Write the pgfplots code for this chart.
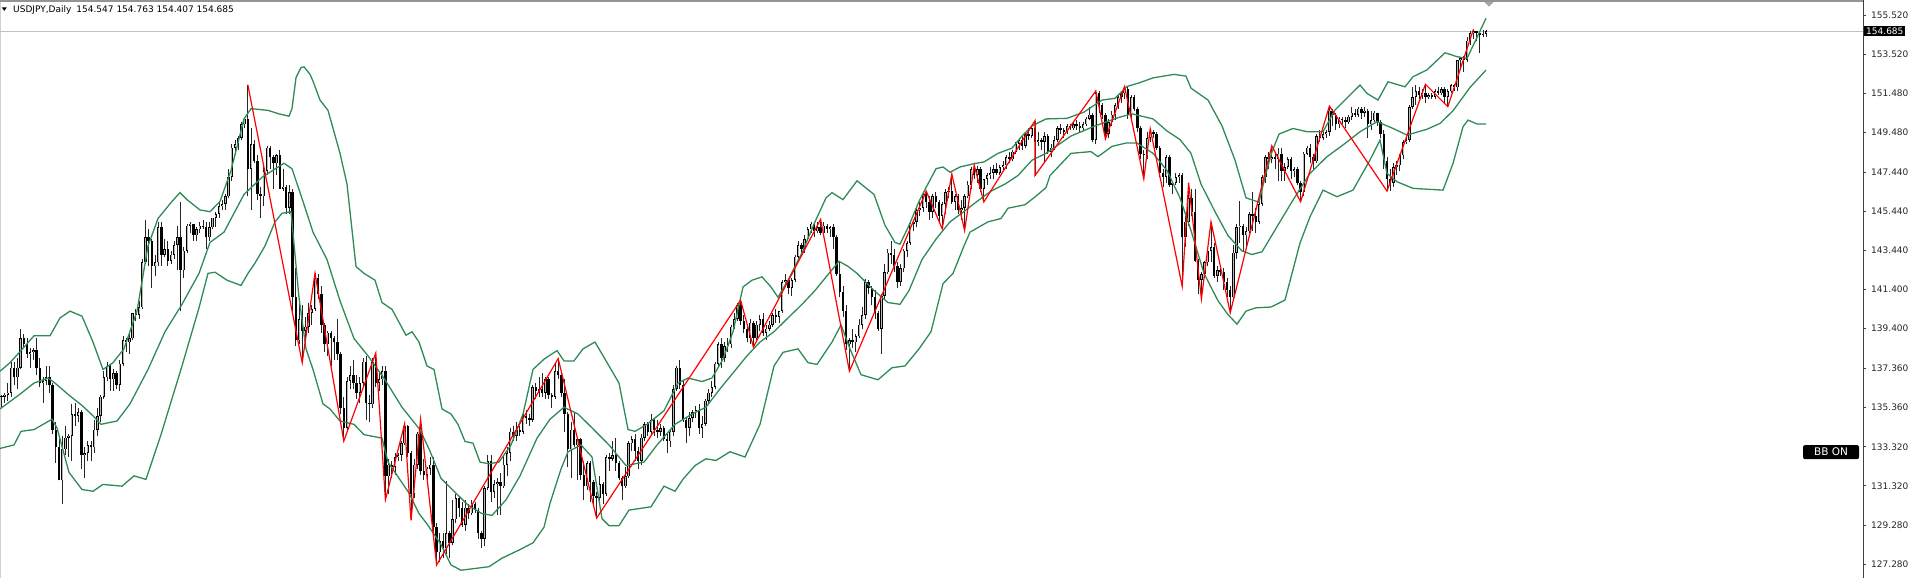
\documentclass[border=0pt]{standalone}
\usepackage{pgfplots}
\pgfplotsset{compat=1.18}
\usepackage{pgfplotstable}
\usepackage{fontspec}
\setmainfont{DejaVu Sans}
\definecolor{bbgreen}{RGB}{46,139,87}
\definecolor{pricegrey}{RGB}{192,192,192}
\definecolor{zzred}{RGB}{255,0,0}

% Daily candles, one row per bar: open high low close
\pgfplotstableread{
o h l c
135.9 136.0 135.3 135.9
135.9 136.1 135.6 136.0
136.0 136.6 135.7 136.1
136.1 137.7 135.9 137.4
137.4 137.7 136.5 136.9
136.9 137.9 136.3 137.4
137.4 139.38 137.3 138.9
138.9 139.1 138.4 138.6
138.6 138.9 137.9 138.1
138.1 138.4 137.4 138.2
138.2 138.4 137.8 138.3
138.3 138.9 137.0 137.4
137.4 137.9 136.4 136.6
136.6 136.9 135.6 136.7
136.7 137.5 136.5 136.9
136.9 137.5 136.1 136.5
136.5 136.6 134.0 134.2
134.2 134.6 132.5 133.3
133.3 133.7 131.6 131.6
131.6 133.9 130.39 133.2
133.2 134.4 132.9 133.8
133.8 134.0 132.8 133.9
133.9 135.5 132.6 135.0
135.0 135.58 134.4 134.9
134.9 135.3 134.6 135.1
135.1 135.2 132.2 132.9
132.9 133.3 131.73 133.0
133.0 133.6 132.6 133.4
133.4 133.6 132.6 133.3
133.3 134.7 133.0 134.2
134.2 135.3 133.9 134.9
134.9 136.0 134.6 135.9
135.9 137.2 135.8 136.9
136.9 137.7 136.7 137.5
137.5 137.6 136.2 136.8
136.8 137.3 136.2 137.1
137.1 137.2 136.3 136.5
136.5 137.8 136.2 137.6
137.6 139.0 137.5 138.8
138.8 138.9 138.2 138.7
138.7 139.1 138.1 138.9
138.9 140.2 138.8 140.2
140.2 140.4 139.8 140.1
140.1 140.8 139.9 140.5
140.5 143.0 140.4 142.8
142.8 144.99 142.7 144.1
144.1 144.5 142.6 143.9
143.9 144.0 141.5 142.6
142.6 143.2 142.1 142.8
142.8 144.9 142.6 144.6
144.6 144.9 142.6 143.2
143.2 144.0 143.1 143.5
143.5 143.9 142.6 142.9
142.9 143.4 142.7 143.2
143.2 143.9 143.0 143.7
143.7 144.7 142.4 144.1
144.1 145.9 140.3 142.4
142.4 143.6 142.0 143.4
143.4 144.8 143.3 144.7
144.7 144.9 144.3 144.8
144.8 144.8 143.9 144.2
144.2 144.6 143.9 144.5
144.5 144.9 144.3 144.7
144.7 145.0 144.5 144.6
144.6 144.9 143.5 144.1
144.1 144.9 143.9 144.6
144.6 145.1 144.5 145.1
145.1 145.4 144.6 145.3
145.3 145.9 145.1 145.7
145.7 146.0 145.5 145.8
145.8 146.3 145.5 146.2
146.2 147.6 146.1 147.2
147.2 148.9 147.0 148.7
148.7 149.1 148.3 148.9
148.9 149.3 148.6 149.2
149.2 150.0 149.1 149.9
149.9 150.3 149.7 150.2
150.2 151.94 146.2 147.6
147.6 149.7 145.5 148.9
148.9 149.1 147.9 148.0
148.0 148.3 146.0 146.3
146.3 146.7 145.1 146.2
146.2 147.9 145.7 147.5
147.5 148.8 147.3 148.7
148.7 148.8 147.6 148.2
148.2 148.3 146.6 147.9
147.9 148.4 147.3 148.3
148.3 148.6 146.6 146.6
146.6 147.6 146.5 146.7
146.7 146.8 145.3 145.6
145.6 146.8 145.3 146.4
146.4 146.6 140.2 141.0
141.0 142.5 138.5 138.8
138.8 140.8 138.6 139.9
139.9 140.6 137.65 139.3
139.3 140.0 138.7 139.5
139.5 140.7 139.2 140.2
140.2 140.6 139.6 140.4
140.4 142.25 140.3 142.0
142.0 142.2 140.9 141.2
141.2 141.6 139.2 139.6
139.6 139.7 138.2 138.6
138.6 139.3 138.0 139.2
139.2 139.3 137.5 138.9
138.9 139.0 137.8 138.7
138.7 139.9 137.8 138.1
138.1 138.2 135.0 135.3
135.3 135.9 133.62 134.3
134.3 136.9 134.1 136.7
136.7 137.5 136.3 137.0
137.0 137.8 136.3 136.6
136.6 137.0 135.8 136.1
136.1 136.9 135.6 136.6
136.6 137.9 136.4 137.7
137.7 138.0 134.7 135.6
135.6 136.0 134.6 135.5
135.5 137.9 135.3 137.7
137.7 138.15 136.4 136.6
136.6 137.2 136.2 136.8
136.8 137.5 136.5 137.2
137.2 137.5 130.6 131.8
131.8 132.7 130.9 132.4
132.4 132.6 131.7 132.3
132.3 133.0 131.9 132.8
132.8 133.0 132.6 132.9
132.9 133.6 132.6 133.5
133.5 134.5 133.4 134.4
134.4 134.45 132.8 133.0
133.0 133.1 129.54 130.9
130.9 132.7 130.7 132.4
132.4 134.1 132.2 134.0
134.0 134.74 131.9 132.1
132.1 132.7 131.6 131.9
131.9 132.3 131.5 132.2
132.2 132.8 131.9 132.4
132.4 132.8 128.9 129.2
129.2 129.4 127.25 127.9
127.9 128.9 127.4 128.5
128.5 128.9 127.6 128.1
128.1 131.58 127.8 128.9
128.9 129.0 127.6 128.4
128.4 130.6 128.3 129.6
129.6 130.9 129.4 130.7
130.7 130.8 129.7 130.2
130.2 130.5 129.2 129.3
129.3 130.6 129.0 130.2
130.2 130.4 129.6 129.9
129.9 130.6 129.8 130.4
130.4 130.5 129.9 130.1
130.1 130.2 128.6 128.9
128.9 129.0 128.1 128.6
128.6 131.3 128.2 131.2
131.2 132.9 131.1 132.6
132.6 132.9 130.5 131.0
131.0 131.6 130.7 131.4
131.4 131.7 129.8 131.5
131.5 132.0 129.8 131.3
131.3 132.9 131.2 132.4
132.4 133.3 131.8 133.0
133.0 134.3 132.6 134.1
134.1 134.4 133.6 133.9
133.9 134.6 133.6 134.2
134.2 134.4 133.9 134.1
134.1 135.0 134.0 134.9
134.9 135.2 134.5 134.8
134.8 135.0 134.4 134.7
134.7 136.5 134.6 136.4
136.4 136.6 135.8 136.2
136.2 136.9 135.9 136.3
136.3 137.1 135.9 136.1
136.1 136.9 135.8 136.8
136.8 136.9 135.8 136.0
136.0 136.1 135.3 135.9
135.9 137.6 135.8 137.2
137.2 137.86 136.8 137.0
137.0 137.1 135.9 136.1
136.1 136.8 134.1 135.0
135.0 135.1 132.3 133.2
133.2 134.6 131.7 134.2
134.2 135.1 133.3 133.4
133.4 133.8 131.6 133.7
133.7 133.8 131.6 131.9
131.9 132.6 130.6 131.3
131.3 132.6 131.1 132.5
132.5 132.6 130.5 131.5
131.5 131.6 130.4 130.8
130.8 131.0 129.66 130.7
130.7 131.8 130.4 131.4
131.4 131.5 130.4 130.9
130.9 132.9 130.8 132.8
132.8 133.0 132.1 132.7
132.7 133.6 132.6 132.9
132.9 133.8 132.1 132.5
132.5 132.6 131.6 131.7
131.7 131.8 130.6 131.3
131.3 132.3 131.2 131.8
131.8 133.6 131.7 133.5
133.5 133.9 133.1 133.7
133.7 134.0 132.6 133.1
133.1 133.3 132.2 132.6
132.6 134.0 132.4 133.8
133.8 134.6 133.6 134.5
134.5 134.6 133.9 134.1
134.1 135.0 134.0 134.7
134.7 134.8 133.9 134.2
134.2 134.7 133.8 134.1
134.1 134.5 133.9 134.3
134.3 134.4 133.6 133.7
133.7 134.0 133.0 133.6
133.6 134.2 133.3 134.1
134.1 136.5 133.9 136.3
136.3 137.5 136.2 137.4
137.4 137.8 136.3 136.5
136.5 136.7 134.6 134.7
134.7 134.8 133.5 134.3
134.3 135.1 133.9 134.8
134.8 135.2 134.6 135.1
135.1 135.4 134.8 135.2
135.2 135.5 134.0 134.3
134.3 134.9 133.8 134.5
134.5 135.8 134.4 135.7
135.7 136.3 135.5 136.1
136.1 136.7 135.9 136.4
136.4 137.7 136.3 137.6
137.6 138.7 137.5 138.6
138.6 138.9 137.4 137.9
137.9 138.7 137.7 138.5
138.5 138.9 138.2 138.6
138.6 139.6 138.4 139.5
139.5 140.2 139.4 139.9
139.9 140.7 139.8 140.6
140.6 140.86 139.6 139.8
139.8 140.1 139.2 139.4
139.4 139.6 138.7 138.9
138.9 139.9 138.6 139.7
139.7 139.8 138.45 138.9
138.9 139.8 138.8 139.6
139.6 140.1 139.3 139.9
139.9 140.2 139.0 139.2
139.2 139.6 138.8 139.4
139.4 139.8 139.3 139.6
139.6 140.2 139.5 140.1
140.1 140.4 139.7 140.0
140.0 140.3 139.7 140.3
140.3 141.9 140.2 141.8
141.8 142.2 141.6 141.9
141.9 142.0 141.2 141.5
141.5 142.0 141.1 141.9
141.9 143.2 141.8 143.1
143.1 143.9 142.9 143.7
143.7 143.8 143.2 143.5
143.5 144.2 143.3 144.0
144.0 144.6 143.9 144.5
144.5 144.9 144.3 144.8
144.8 144.9 144.1 144.4
144.4 144.9 144.3 144.6
144.6 145.02 144.2 144.3
144.3 144.9 144.2 144.7
144.7 144.8 144.3 144.5
144.5 144.7 144.1 144.6
144.6 144.8 143.5 144.1
144.1 144.2 142.1 142.2
142.2 142.9 141.0 141.3
141.3 141.6 140.0 140.3
140.3 140.6 138.3 138.6
138.6 138.9 137.21 138.8
138.8 139.4 138.4 138.7
138.7 139.1 138.2 139.0
139.0 139.9 138.9 139.6
139.6 140.5 139.4 140.1
140.1 141.95 139.9 141.8
141.8 141.9 141.2 141.5
141.5 141.6 140.6 141.0
141.0 141.4 139.9 140.2
140.2 140.3 139.3 139.4
139.4 141.2 138.07 141.1
141.1 142.7 140.9 142.3
142.3 143.5 142.2 143.3
143.3 143.9 142.7 143.2
143.2 143.5 142.3 142.6
142.6 142.8 141.5 141.8
141.8 142.7 141.6 142.5
142.5 143.5 142.3 143.4
143.4 143.9 143.1 143.8
143.8 144.9 143.7 144.8
144.8 145.0 144.4 144.9
144.9 145.6 144.6 145.5
145.5 145.9 145.2 145.6
145.6 146.4 145.4 146.3
146.3 146.47 145.6 145.9
145.9 146.2 145.0 145.4
145.4 146.3 145.1 146.2
146.2 146.4 145.6 145.9
145.9 146.0 144.9 145.2
145.2 145.9 144.53 145.8
145.8 146.6 145.3 146.4
146.4 146.7 146.1 146.5
146.5 147.35 145.8 145.9
145.9 146.3 145.5 146.2
146.2 146.3 145.3 145.5
145.5 146.0 145.0 145.6
145.6 146.3 144.44 146.2
146.2 147.0 146.1 146.8
146.8 147.7 146.6 147.6
147.6 147.8 147.1 147.3
147.3 147.75 146.9 147.6
147.6 147.7 146.4 146.6
146.6 147.1 145.91 147.1
147.1 147.4 146.8 147.3
147.3 147.7 147.1 147.4
147.4 147.8 147.1 147.6
147.6 147.9 147.3 147.4
147.4 147.8 147.3 147.7
147.7 148.0 147.5 147.8
147.8 148.3 147.6 148.2
148.2 148.5 147.9 148.1
148.1 148.6 148.0 148.5
148.5 149.0 148.4 148.9
148.9 149.2 148.6 149.1
149.1 149.3 148.6 148.8
148.8 149.5 148.7 149.4
149.4 149.7 149.1 149.3
149.3 149.8 149.2 149.7
149.7 150.09 147.27 149.0
149.0 149.5 148.8 149.1
149.1 149.2 148.6 149.0
149.0 149.5 147.9 149.3
149.3 149.4 148.4 148.5
148.5 148.9 148.2 148.7
148.7 149.3 148.6 149.1
149.1 149.8 149.0 149.7
149.7 149.9 149.4 149.6
149.6 149.7 149.2 149.5
149.5 149.9 149.4 149.8
149.8 149.9 149.6 149.7
149.7 150.0 149.6 149.9
149.9 150.1 149.6 149.8
149.8 150.0 149.5 149.7
149.7 150.0 149.6 149.9
149.9 150.3 149.8 150.2
150.2 150.8 150.1 150.4
150.4 150.5 149.0 149.1
149.1 151.62 148.9 151.5
151.5 151.6 150.5 150.9
150.9 151.0 150.2 150.4
150.4 150.5 149.15 149.4
149.4 150.2 149.2 150.0
150.0 150.6 149.8 150.4
150.4 151.0 150.1 150.9
150.9 151.4 150.7 151.3
151.3 151.6 151.0 151.5
151.5 151.85 151.2 151.7
151.7 151.8 150.2 150.4
150.4 151.4 150.2 151.3
151.3 151.4 150.6 150.7
150.7 150.8 149.5 149.7
149.7 149.8 148.1 148.4
148.4 148.6 147.09 148.3
148.3 149.5 148.1 149.2
149.2 149.68 149.0 149.5
149.5 149.6 149.2 149.4
149.4 149.5 148.6 148.7
148.7 148.8 147.2 147.4
147.4 147.6 146.7 147.2
147.2 148.3 146.9 148.2
148.2 148.3 146.7 146.8
146.8 147.0 146.3 146.9
146.9 147.4 146.8 147.2
147.2 147.4 146.9 147.3
147.3 147.4 141.57 144.1
144.1 145.2 143.6 144.9
144.9 146.9 144.7 146.1
146.1 146.6 145.2 145.4
145.4 146.6 142.8 142.9
142.9 143.0 141.2 141.9
141.9 142.3 140.92 142.2
142.2 142.9 142.0 142.8
142.8 143.5 142.6 143.4
143.4 144.89 142.8 143.6
143.6 143.8 142.0 142.1
142.1 142.6 141.8 142.4
142.4 142.5 142.1 142.3
142.3 142.5 141.4 141.8
141.8 142.0 141.0 141.4
141.4 141.6 140.21 141.0
141.0 143.7 140.8 143.3
143.3 144.8 143.0 144.6
144.6 145.98 143.8 144.7
144.7 144.8 143.4 144.2
144.2 144.6 143.6 144.4
144.4 145.4 144.3 145.3
145.3 146.4 144.4 145.2
145.2 145.6 144.3 144.9
144.9 145.9 144.8 145.8
145.8 147.3 145.7 147.2
147.2 148.3 146.9 148.2
148.2 148.5 147.6 148.1
148.1 148.80 147.9 148.2
148.2 148.5 147.6 148.1
148.1 148.7 146.98 148.4
148.4 148.7 147.0 147.5
147.5 147.9 147.0 147.7
147.7 148.2 147.6 148.1
148.1 148.2 147.1 147.5
147.5 147.7 147.2 147.6
147.6 147.7 146.8 146.9
146.9 147.0 145.92 146.4
146.4 148.5 146.2 148.4
148.4 148.8 148.3 148.7
148.7 148.9 147.9 148.2
148.2 148.4 147.6 148.0
148.0 149.4 147.9 149.3
149.3 149.6 149.0 149.2
149.2 149.5 149.1 149.4
149.4 149.6 149.2 149.5
149.5 150.84 149.3 150.6
150.6 150.7 149.8 150.4
150.4 150.5 149.6 149.9
149.9 150.3 149.7 150.2
150.2 150.3 149.9 150.1
150.1 150.3 149.7 150.0
150.0 150.4 149.9 150.3
150.3 150.8 150.1 150.5
150.5 150.7 150.3 150.4
150.4 150.8 150.3 150.7
150.7 150.8 150.2 150.5
150.5 150.8 150.3 150.6
150.6 150.7 149.2 149.9
149.9 150.6 149.6 150.1
150.1 150.6 150.0 150.5
150.5 150.5 149.8 150.0
150.0 150.1 149.2 149.4
149.4 149.6 147.6 148.0
148.0 148.2 146.47 147.1
147.1 147.6 146.5 146.9
146.9 147.9 146.7 147.7
147.7 148.0 147.3 147.8
147.8 148.4 147.5 148.3
148.3 149.1 148.1 149.0
149.0 149.3 148.9 149.1
149.1 150.9 149.0 150.8
150.8 151.8 150.7 151.3
151.3 151.9 150.9 151.6
151.6 151.8 151.2 151.4
151.4 151.7 151.2 151.5
151.5 151.96 151.0 151.3
151.3 151.5 151.2 151.4
151.4 151.5 151.2 151.3
151.3 151.7 151.2 151.6
151.6 151.8 151.4 151.5
151.5 151.8 151.4 151.7
151.7 151.8 151.0 151.3
151.3 151.7 150.81 151.6
151.6 152.0 151.5 151.9
151.9 152.0 151.6 151.8
151.8 153.2 151.6 153.2
153.2 153.3 152.7 153.3
153.3 153.4 152.6 153.2
153.2 154.4 153.1 154.2
154.2 154.7 154.0 154.6
154.6 154.78 154.3 154.7
154.7 154.72 154.2 154.6
154.6 154.7 153.55 154.5
154.5 154.75 154.4 154.55
154.547 154.763 154.407 154.685
}\candles

\pgfplotstableread{
x y
0 137.21
10 137.65
21 138.27
34 139.03
50 139.03
60 139.95
70 140.30
82 140.04
93 138.71
103 137.30
113 137.65
124 138.36
137 140.30
148 143.65
158 145.06
172 145.94
180 146.39
187 146.03
200 145.5
210 145.41
220 145.94
231 147.53
244 150.18
251 150.71
268 150.62
279 150.44
289 150.32
292 150.71
296 152.3
301 152.82
304 152.86
310 152.47
313 152.12
320 151.15
328 150.62
340 148.41
347 146.83
356 142.59
364 142.24
375 141.89
382 140.74
392 140.39
406 139.06
412 139.24
419 138.71
427 137.48
434 137.3
442 135.27
451 135.01
458 134.48
465 133.6
473 133.51
480 132.54
489 132.45
499 132.54
511 133.42
523 135.01
533 137.3
544 137.83
557 138.27
564 137.74
574 137.74
583 138.36
595 138.71
609 137.48
619 136.6
628 134.21
635 134.12
647 134.48
664 135.18
678 136.6
688 136.86
702 136.68
712 136.86
723 137.83
733 139.24
743 141.54
752 141.89
762 142.06
771 141.54
778 141.01
788 141.89
802 143.3
815 144.89
826 146.12
832 146.39
843 146.03
857 147.0
874 146.3
885 144.71
895 143.83
900 143.74
909 144.71
919 145.94
926 146.65
936 147.62
943 147.71
950 147.44
960 147.71
974 147.88
984 147.97
998 148.41
1012 148.68
1022 149.3
1032 149.82
1046 150.18
1067 150.21
1084 150.53
1102 151.15
1115 151.24
1127 151.85
1139 152.03
1153 152.29
1174 152.47
1186 152.38
1191 151.76
1208 151.15
1222 149.82
1235 148.06
1246 146.12
1259 145.9
1266 147.4
1272 148.5
1279 149.4
1293 149.69
1307 149.52
1323 149.52
1335 150.64
1360 151.92
1367 151.49
1378 151.15
1388 152.09
1405 151.83
1413 152.35
1427 152.70
1445 153.58
1457 153.38
1467 153.29
1486 155.35
}\upperband

\pgfplotstableread{
x y
0 135.27
21 136.07
34 136.60
48 136.86
55 136.60
69 135.98
82 135.45
93 134.92
101 134.48
117 134.65
130 135.53
148 137.30
165 139.24
182 140.65
199 142.24
210 143.83
224 144.36
244 146.30
262 147.18
284 147.9
292 147.62
303 145.94
313 144.36
327 142.95
340 140.83
354 138.89
368 138.0
385 136.77
402 135.36
420 134.2
430 133.1
441 131.7
454 131.04
468 130.33
482 129.89
492 129.8
506 130.6
520 131.83
537 133.77
550 134.74
564 135.36
578 135.01
592 134.3
609 133.42
626 132.36
644 132.54
657 133.42
675 134.48
692 135.01
706 135.36
719 136.24
733 137.12
747 138.0
760 138.71
774 139.24
788 139.95
802 140.65
815 141.36
829 142.24
839 142.86
848 142.6
857 142.24
874 141.36
888 140.74
900 140.65
909 141.36
922 142.95
936 144.0
950 144.89
964 145.42
977 145.94
991 146.47
1005 146.83
1018 147.27
1032 148.06
1046 148.41
1071 149.3
1095 149.82
1119 150.26
1132 150.44
1153 150.18
1167 149.56
1180 149.12
1191 148.41
1201 146.83
1215 145.41
1228 144.18
1242 143.39
1252 143.21
1262 143.35
1277 144.64
1293 146.01
1310 147.38
1327 148.24
1343 148.84
1360 149.52
1377 150.04
1393 149.69
1407 149.35
1427 149.65
1440 149.95
1453 150.6
1470 151.8
1486 152.69
}\middleband

\pgfplotstableread{
x y
0 133.24
14 133.42
21 134.12
34 134.21
52 134.74
57 134.30
69 132.01
82 131.13
93 131.04
103 131.39
122 131.30
134 131.83
146 131.65
161 133.95
182 137.48
199 140.47
208 142.24
215 142.3
227 141.89
241 141.62
248 142.24
255 142.77
265 143.65
275 144.89
282 145.33
291 145.41
299 141.0
306 138.36
313 137.3
323 135.53
330 135.27
340 134.65
354 134.48
364 133.95
382 133.77
388 132.54
402 131.48
409 130.95
419 129.89
427 129.36
441 128.30
451 127.25
461 126.98
475 127.07
489 127.16
502 127.6
520 128.04
533 128.39
544 129.19
550 130.42
561 132.18
568 133.07
581 133.42
592 132.8
602 129.63
609 129.27
619 129.27
629 130.07
651 130.24
664 131.3
675 131.04
683 131.66
695 132.36
706 132.71
716 132.62
730 133.07
745 132.8
760 134.48
774 137.48
783 138.18
798 138.36
808 137.65
817 137.56
832 138.71
841 139.59
850 138.36
861 137.03
878 136.77
892 137.39
905 137.48
919 138.36
931 139.24
943 141.71
953 142.24
964 143.65
970 144.36
988 144.89
1001 145.06
1008 145.59
1025 145.77
1036 146.21
1046 146.65
1050 147.27
1071 148.41
1091 148.5
1098 148.24
1112 148.77
1126 148.94
1137 148.94
1153 148.41
1167 147.53
1180 146.12
1191 144.44
1204 142.24
1218 140.83
1228 140.12
1237 139.63
1246 140.3
1256 140.47
1271 140.51
1285 140.87
1300 143.8
1310 145.15
1323 146.52
1337 146.18
1353 146.52
1370 148.07
1380 149.09
1387 147.38
1397 146.95
1413 146.61
1443 146.52
1453 147.89
1463 149.78
1468 150.12
1477 149.92
1486 149.92
}\lowerband

\pgfplotstableread{
x y
247.8 151.94
302.2 137.65
315.0 142.25
343.8 133.62
375.8 138.15
385.4 130.6
404.6 134.5
411.0 129.54
420.6 134.74
436.6 127.25
558.2 137.86
596.6 129.66
740.6 140.86
753.4 138.45
820.6 145.02
849.4 137.21
926.2 146.47
942.2 144.53
951.8 147.35
964.6 144.44
974.2 147.8
983.8 145.91
1035.0 150.09
1035.0 147.27
1095.8 151.62
1105.4 149.15
1124.6 151.85
1143.8 147.09
1150.2 149.68
1182.2 141.57
1188.6 146.9
1201.4 140.92
1211.0 144.89
1230.2 140.21
1271.8 148.80
1300.6 145.92
1329.4 150.84
1387.0 146.47
1425.4 151.96
1447.8 150.81
1473.4 154.78
}\zigzag

\begin{document}
\begin{tikzpicture}[x=1pt,y=1pt]
\useasboundingbox (0,0) rectangle (1913,578);
\fill[black!42] (0,576) rectangle (1864,578);
\draw[black!18, line width=1pt] (0.5,0) -- (0.5,576);
\draw[black!75, line width=0.9pt] (1863,574) -- (1863,578);
\begin{axis}[
  at={(0,0)}, anchor=south west,
  scale only axis, width=1863pt, height=575pt,
  xmin=0, xmax=1863, ymin=126.58, ymax=156.14,
  axis x line=none,
  axis y line*=right,
  y axis line style={black!75, line width=0.9pt},
  ytick={127.28,129.28,131.32,133.32,135.36,137.36,139.40,141.40,143.44,145.44,147.44,149.48,151.48,153.52,155.52},
  yticklabels={127.280,129.280,131.320,133.320,135.360,137.360,139.400,141.400,143.440,145.440,147.440,149.480,151.480,153.520,155.520},
  tick align=outside,
  major tick length=3pt,
  ytick style={black!75, line width=0.8pt},
  yticklabel style={font=\fontsize{9}{10}\selectfont, text=black!85, anchor=west, inner sep=0pt, xshift=5pt},
  clip mode=individual,
]
% current bid line
\addplot[pricegrey, line width=0.9pt] coordinates {(0,154.685) (1863,154.685)};
% wicks
\addplot[draw=none, mark=none, forget plot, error bars/.cd, y dir=plus, y explicit, error mark=none,
  error bar style={draw=black!85, line width=0.85pt, line cap=butt}]
  table[x expr=1.4+3.2*\coordindex, y=l, y error plus expr={\thisrow{h}-\thisrow{l}}] {\candles};
% bodies (outline / bear fill)
\addplot[draw=none, mark=none, forget plot, error bars/.cd, y dir=plus, y explicit, error mark=none,
  error bar style={draw=black, line width=2.3pt, line cap=butt}]
  table[x expr=1.4+3.2*\coordindex, y expr={min(\thisrow{o},\thisrow{c})}, y error plus expr={max(abs(\thisrow{c}-\thisrow{o}),0.04)}] {\candles};
% bull body interior
\addplot[draw=none, mark=none, forget plot, error bars/.cd, y dir=plus, y explicit, error mark=none,
  error bar style={draw=black!28, line width=1.0pt, line cap=butt}]
  table[x expr=1.4+3.2*\coordindex, y expr={\thisrow{o}+0.035}, y error plus expr={(\thisrow{c}>\thisrow{o}+0.07)*(\thisrow{c}-\thisrow{o}-0.07)+0.0001}] {\candles};
% Bollinger bands
\addplot[bbgreen, line width=1.3pt] table {\upperband};
\addplot[bbgreen, line width=1.3pt] table {\middleband};
\addplot[bbgreen, line width=1.3pt] table {\lowerband};
% zigzag
\addplot[zzred, line width=1.2pt] table {\zigzag};
% labels
\node[fill=black, text=white, anchor=west, inner xsep=2pt, inner ysep=1.6pt, text height=6.6pt, text depth=0pt, font=\fontsize{9}{10}\selectfont] at (axis cs:1864,154.685) {154.685};
\node[fill=black, text=white, rounded corners=2pt, minimum width=56pt, minimum height=14pt, inner sep=0pt, font=\fontsize{10.5}{12}\selectfont] at (axis cs:1831,133.05) {BB ON};
\end{axis}
\fill[black!35] (1484.5,576) -- (1493.5,576) -- (1489,571.3) -- cycle;
\fill[black] (1.7,570.7) -- (6.9,570.7) -- (4.3,567.2) -- cycle;
\node[anchor=west, inner sep=0pt, font=\fontsize{9}{10}\selectfont] at (13,568) {USDJPY,Daily\hspace{5pt}154.547 154.763 154.407 154.685};
\end{tikzpicture}
\end{document}
